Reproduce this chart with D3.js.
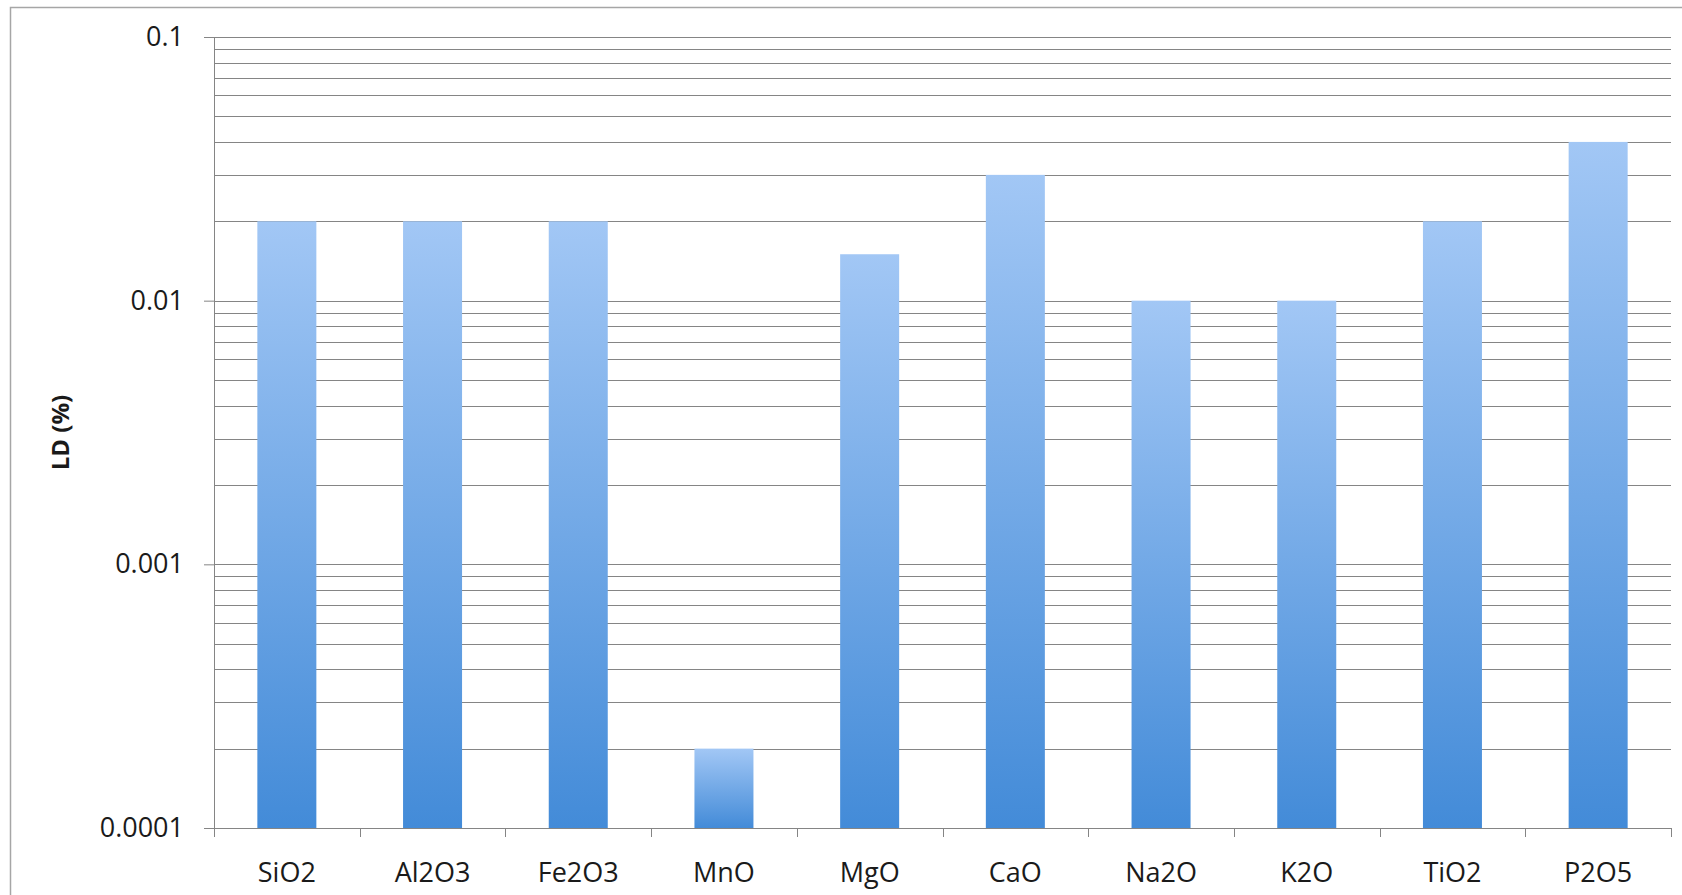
<!DOCTYPE html>
<html>
<head>
<meta charset="utf-8">
<script src="https://cdn.jsdelivr.net/npm/d3@7"></script>
<style>
  body { margin: 0; background: #fff; }
  svg { display: block; }
</style>
</head>
<body>
<div id="chart"></div>
<script>
// Data
const categories = ["SiO2", "Al2O3", "Fe2O3", "MnO", "MgO", "CaO", "Na2O", "K2O", "TiO2", "P2O5"];
const values = [0.02, 0.02, 0.02, 0.0002, 0.015, 0.03, 0.01, 0.01, 0.02, 0.04];
const yTickValues = [0.0001, 0.001, 0.01, 0.1];
const yTickLabels = ["0.0001", "0.001", "0.01", "0.1"];

const W = 1682, H = 895;
const margin = { top: 37, right: 11, bottom: 67, left: 214 };
const width = W - margin.left - margin.right;
const height = H - margin.top - margin.bottom;

const root = d3.select("#chart").append("svg")
    .attr("width", W)
    .attr("height", H);

// outer frame
root.append("rect")
    .attr("x", 10.5).attr("y", 7.5)
    .attr("width", W + 20).attr("height", H + 20)
    .attr("fill", "#fff")
    .attr("stroke", "#a6a6a6")
    .attr("stroke-width", 1.5);

const defs = root.append("defs");
const grad = defs.append("linearGradient")
    .attr("id", "barGrad")
    .attr("x1", 0).attr("y1", 0).attr("x2", 0).attr("y2", 1);
grad.append("stop").attr("offset", "0%").attr("stop-color", "#a2c7f5");
grad.append("stop").attr("offset", "100%").attr("stop-color", "#438bd8");

const svg = root.append("g")
    .attr("transform", `translate(${margin.left},${margin.top})`);

const x = d3.scaleBand()
    .domain(categories)
    .range([0, width])
    .paddingInner(0.595)
    .paddingOuter(0.2975);

const y = d3.scaleLog()
    .domain([0.0001, 0.1])
    .range([height, 0]);

// gridlines (major + minor)
svg.append("g")
    .attr("class", "grid")
    .selectAll("line")
    .data(y.ticks())
    .enter()
    .append("line")
    .attr("x1", 0)
    .attr("x2", width)
    .attr("y1", d => Math.round(y(d)) + 0.5)
    .attr("y2", d => Math.round(y(d)) + 0.5)
    .attr("stroke", "#858585")
    .attr("stroke-width", 1);

// bars
svg.selectAll(".bar")
    .data(categories)
    .enter()
    .append("rect")
    .attr("class", "bar")
    .attr("x", d => x(d))
    .attr("y", (d, i) => y(values[i]))
    .attr("width", x.bandwidth())
    .attr("height", (d, i) => height - y(values[i]))
    .attr("fill", "url(#barGrad)");

// y axis
svg.append("g")
    .attr("class", "y-axis")
    .call(d3.axisLeft(y)
        .tickValues(yTickValues)
        .tickFormat((d, i) => yTickLabels[i])
        .tickSize(10)
        .tickPadding(20)
        .tickSizeOuter(0));

// x axis
const step = x.step();
svg.append("g")
    .attr("class", "x-axis")
    .attr("transform", `translate(0, ${height})`)
    .call(d3.axisBottom(x).tickSize(0).tickPadding(35).tickSizeOuter(0));

// category separators on the x axis
svg.append("g")
    .selectAll("line")
    .data(d3.range(categories.length + 1))
    .enter()
    .append("line")
    .attr("x1", d => Math.round(d * step) + 0.5)
    .attr("x2", d => Math.round(d * step) + 0.5)
    .attr("y1", height)
    .attr("y2", height + 9)
    .attr("stroke", "#858585");

svg.selectAll(".y-axis path, .x-axis path")
    .attr("stroke", "#858585");
svg.selectAll(".y-axis line")
    .attr("stroke", "#858585");

svg.selectAll(".y-axis text, .x-axis text")
    .attr("fill", "#1a1a1a")
    .attr("font-family", "'Open Sans', sans-serif")
    .attr("font-size", "27px");

// y axis label
svg.append("text")
    .attr("transform", `translate(${61 - margin.left}, ${height / 2}) rotate(-90)`)
    .attr("text-anchor", "middle")
    .attr("dy", "0.35em")
    .attr("font-family", "'Open Sans', sans-serif")
    .attr("font-weight", "bold")
    .attr("font-size", "24px")
    .attr("fill", "#1a1a1a")
    .text("LD (%)");
</script>
</body>
</html>
